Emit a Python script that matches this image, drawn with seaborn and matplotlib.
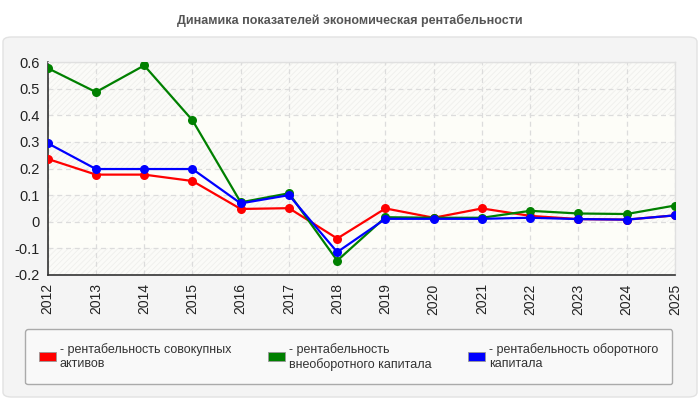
import numpy as np
import pandas as pd
import matplotlib
matplotlib.use('Agg')
import matplotlib.pyplot as plt
import seaborn as sns
from matplotlib.patches import FancyBboxPatch, Patch

years = list(range(2012, 2026))
series_names = ['рентабельность совокупных\nактивов',
                'рентабельность\nвнеоборотного капитала',
                'рентабельность оборотного\nкапитала']
total_assets = [0.236, 0.177, 0.177, 0.153, 0.048, 0.051, -0.063,
                0.050, 0.015, 0.050, 0.022, 0.010, 0.008, 0.024]
noncurrent = [0.577, 0.487, 0.587, 0.381, 0.073, 0.107, -0.146,
              0.017, 0.015, 0.015, 0.041, 0.031, 0.029, 0.061]
current = [0.295, 0.198, 0.198, 0.198, 0.069, 0.100, -0.114,
           0.011, 0.011, 0.011, 0.015, 0.010, 0.008, 0.024]
colors = ['#ff0000', '#008000', '#0000ff']
y_ticks = [-0.2, -0.1, 0, 0.1, 0.2, 0.3, 0.4, 0.5, 0.6]
y_labels = ['-0.2', '-0.1', '0', '0.1', '0.2', '0.3', '0.4', '0.5', '0.6']

df = pd.DataFrame({
    'year': years * 3,
    'value': total_assets + noncurrent + current,
    'series': [series_names[0]] * 14 + [series_names[1]] * 14 + [series_names[2]] * 14,
})

sns.set_style('white')
plt.rcParams['font.family'] = ['Liberation Sans', 'DejaVu Sans']
plt.rcParams['hatch.linewidth'] = 0.6

fig = plt.figure(figsize=(7, 4), dpi=100)
fig.patch.set_facecolor('white')

# outer panel
panel = FancyBboxPatch((3 / 700, 3 / 400), 694 / 700, 360 / 400,
                       boxstyle='round,pad=0,rounding_size=0.012',
                       transform=fig.transFigure, facecolor='#f4f4f4',
                       edgecolor='#e2e2e2', linewidth=1, zorder=-5)
fig.patches.append(panel)

fig.text(0.5, 1 - 20 / 400, 'Динамика показателей экономическая рентабельности',
         ha='center', va='center', fontsize=9, fontweight='bold', color='#555555')

ax = fig.add_axes([47.7 / 700, 1 - 275 / 400, (675 - 47.7) / 700, 213 / 400], zorder=2)
ax.set_facecolor('#fdfdf8')

# background bands
hatched = [(0.4, 0.6), (0.2, 0.3), (0.0, 0.1), (-0.2, -0.1)]
for lo, hi in hatched:
    ax.axhspan(lo, hi, facecolor='#fbfbf8', edgecolor='#efefec', hatch='//////',
               linewidth=0, zorder=0)

sns.lineplot(data=df, x='year', y='value', hue='series', palette=colors,
             marker='o', markersize=6.5, markeredgewidth=0, linewidth=1.6,
             legend=False, ax=ax, zorder=3)

ax.set_xlim(2012, 2025)
ax.set_ylim(-0.2, 0.6)
ax.set_xticks(years)
ax.set_xticklabels([str(y) for y in years], rotation=90, fontsize=10, color='#222222')
ax.set_yticks(y_ticks)
ax.set_yticklabels(y_labels, fontsize=10.5, color='#222222')
ax.set_xlabel('')
ax.set_ylabel('')
ax.grid(True, color='#dcdcdc', linestyle=(0, (4, 3)), linewidth=0.9, zorder=1)
ax.set_axisbelow(True)
ax.tick_params(axis='both', length=4, width=1, color='#333333', direction='out', pad=2)
for side in ['top', 'right']:
    ax.spines[side].set_color('#e0e0e0')
    ax.spines[side].set_linewidth(1)
for side in ['left', 'bottom']:
    ax.spines[side].set_color('#333333')
    ax.spines[side].set_linewidth(1.2)

handles = [Patch(facecolor=c, edgecolor='#999999', linewidth=0.6) for c in colors]
labels = ['- ' + s for s in series_names]
leg = fig.legend(handles, labels, ncol=3, mode='expand',
                 bbox_to_anchor=(25 / 700, 1 - 383 / 400, 647 / 700, 54 / 400),
                 loc='upper left', frameon=True, fancybox=True, borderaxespad=0,
                 handlelength=1.4, handleheight=0.7, handletextpad=0.3,
                 borderpad=1.1, columnspacing=1.0,
                 prop={'size': 9})
leg.get_frame().set_facecolor('#f9f9f9')
leg.get_frame().set_edgecolor('#aaaaaa')
leg.get_frame().set_alpha(1)
for t in leg.get_texts():
    t.set_color('#333333')

fig.savefig('out.png', dpi=100)
